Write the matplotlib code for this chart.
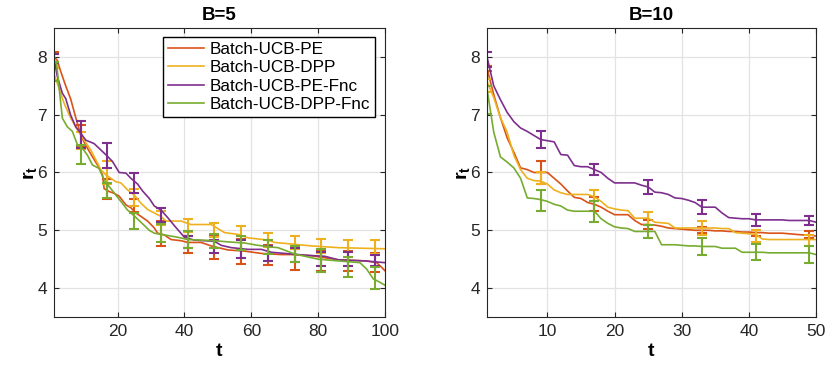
import numpy as np
import matplotlib
matplotlib.use('Agg')
import matplotlib.pyplot as plt

plt.rcParams['font.family'] = ['Liberation Sans', 'DejaVu Sans']
plt.rcParams['mathtext.fontset'] = 'custom'
plt.rcParams['mathtext.bf'] = 'Liberation Sans:bold'
plt.rcParams['mathtext.rm'] = 'Liberation Sans'

#%% datos
labels = ['Batch-UCB-PE', 'Batch-UCB-DPP', 'Batch-UCB-PE-Fnc', 'Batch-UCB-DPP-Fnc']
C = ['#D95319', '#EDB120', '#7E2F8E', '#77AC30']

# B=5 (curvas, puntos de quiebre)
red_t5 = [1, 2, 3, 4.5, 6, 7.5, 8.5, 9.2, 10.5, 12, 14, 15.5, 16, 17.5, 19, 20.5, 22.5, 24, 25.5, 27,
          29, 31, 32, 34, 36, 39, 41, 45, 48, 53, 58, 63, 69, 72, 78, 86, 94.5, 97.5, 99, 100]
red_v5 = [8.0, 7.94, 7.75, 7.5, 7.27, 6.95, 6.75, 6.62, 6.47, 6.32, 6.13, 5.96, 5.72, 5.67, 5.64, 5.59, 5.44, 5.39, 5.30, 5.24,
          5.16, 5.04, 4.95, 4.92, 4.84, 4.82, 4.79, 4.79, 4.73, 4.66, 4.64, 4.60, 4.58, 4.58, 4.56, 4.49, 4.47, 4.44, 4.36, 4.30]
yel_t5 = [1, 2, 4, 6, 8, 10, 12, 13.5, 15, 16.5, 18, 19.5, 21, 23, 25, 27, 29, 31, 33, 34.5,
          39, 42, 48, 50, 52, 56, 59, 65, 67, 78, 86, 100]
yel_v5 = [7.7, 7.54, 7.2, 6.94, 6.74, 6.56, 6.39, 6.22, 6.05, 5.96, 5.9, 5.84, 5.82, 5.70, 5.61, 5.47, 5.36, 5.30, 5.24, 5.16,
          5.16, 5.10, 5.10, 5.03, 4.96, 4.93, 4.87, 4.83, 4.79, 4.73, 4.70, 4.68]
pur_t5 = [1, 2, 3.5, 4.5, 6, 7.5, 9, 10.5, 13, 15, 17, 18.5, 20.5, 22.5, 24, 26, 27.5, 29.5, 31, 33,
          35, 37, 40, 43, 49, 51, 54, 59, 63, 66, 76, 82, 86, 94, 100]
pur_v5 = [7.97, 7.66, 7.37, 7.28, 6.99, 6.79, 6.68, 6.56, 6.50, 6.39, 6.28, 6.19, 6.0, 5.99, 5.9, 5.8, 5.68, 5.55, 5.42, 5.35,
          5.22, 5.08, 4.88, 4.83, 4.81, 4.74, 4.70, 4.67, 4.67, 4.62, 4.57, 4.55, 4.49, 4.47, 4.44]
grn_t5 = [1, 1.8, 2.5, 3.5, 5, 6.5, 8, 9.5, 11, 12.5, 14.5, 16, 18, 19.5, 21, 23, 25, 27, 29.5, 31,
          33, 35, 38, 41, 45, 49, 53, 58, 62, 66, 68, 73, 80, 92.5, 94.5, 96.5, 98.5, 100]
grn_v5 = [7.92, 7.88, 7.48, 6.94, 6.79, 6.71, 6.48, 6.42, 6.30, 6.13, 6.07, 5.87, 5.72, 5.61, 5.5, 5.35, 5.25, 5.14, 5.0, 4.95,
          4.93, 4.91, 4.88, 4.84, 4.83, 4.82, 4.80, 4.78, 4.74, 4.71, 4.7, 4.59, 4.50, 4.44, 4.33, 4.16, 4.10, 4.05]

# B=5 barras de error
eb_t5 = [1, 9, 17, 25, 33, 41, 49, 57, 65, 73, 81, 89, 97]
red_c5 = [8.0, 6.64, 5.72, 5.43, 4.94, 4.75, 4.71, 4.63, 4.57, 4.49, 4.47, 4.47, 4.44]
red_e5 = [0.08, 0.19, 0.17, 0.11, 0.22, 0.15, 0.21, 0.22, 0.17, 0.18, 0.17, 0.17, 0.17]
yel_c5 = [7.7, 6.55, 6.0, 5.57, 5.22, 5.08, 5.0, 4.95, 4.83, 4.79, 4.73, 4.73, 4.71]
yel_e5 = [0.1, 0.15, 0.2, 0.15, 0.12, 0.11, 0.12, 0.12, 0.12, 0.11, 0.12, 0.1, 0.12]
pur_c5 = [7.97, 6.66, 6.29, 5.82, 5.27, 4.8, 4.72, 4.68, 4.6, 4.57, 4.5, 4.5, 4.48]
pur_e5 = [0.08, 0.23, 0.22, 0.17, 0.12, 0.1, 0.12, 0.16, 0.13, 0.12, 0.12, 0.12, 0.1]
grn_c5 = [7.75, 6.31, 5.69, 5.16, 4.95, 4.84, 4.81, 4.78, 4.71, 4.59, 4.47, 4.36, 4.17]
grn_e5 = [0.17, 0.17, 0.13, 0.14, 0.16, 0.15, 0.12, 0.12, 0.12, 0.14, 0.2, 0.17, 0.19]

# B=10
t10 = np.arange(1, 51)
red_v10 = [7.80, 7.35, 6.95, 6.60, 6.35, 6.08, 6.05, 6.00, 6.00, 6.00,
           5.90, 5.80, 5.68, 5.57, 5.55, 5.48, 5.45, 5.40, 5.33, 5.27,
           5.27, 5.27, 5.17, 5.10, 5.10, 5.09, 5.07, 5.04, 5.03, 5.02,
           5.01, 5.00, 5.00, 5.00, 4.99, 4.99, 4.98, 4.98, 4.97, 4.97,
           4.96, 4.96, 4.95, 4.95, 4.95, 4.94, 4.93, 4.92, 4.92, 4.90]
yel_v10 = [7.57, 7.30, 6.95, 6.70, 6.30, 6.05, 5.90, 5.86, 5.85, 5.80,
           5.70, 5.65, 5.62, 5.62, 5.62, 5.62, 5.58, 5.50, 5.40, 5.37,
           5.35, 5.34, 5.21, 5.21, 5.21, 5.14, 5.13, 5.12, 5.04, 5.04,
           5.04, 5.04, 5.04, 5.04, 5.04, 5.03, 5.03, 4.96, 4.95, 4.94,
           4.93, 4.85, 4.84, 4.84, 4.84, 4.84, 4.84, 4.84, 4.84, 4.84]
pur_v10 = [8.00, 7.50, 7.26, 7.04, 6.88, 6.77, 6.71, 6.64, 6.57, 6.55,
           6.53, 6.31, 6.30, 6.12, 6.10, 6.10, 6.05, 6.00, 5.90, 5.82,
           5.82, 5.82, 5.82, 5.78, 5.75, 5.66, 5.65, 5.62, 5.56, 5.55,
           5.52, 5.48, 5.40, 5.40, 5.40, 5.30, 5.22, 5.21, 5.20, 5.20,
           5.18, 5.18, 5.18, 5.18, 5.18, 5.17, 5.17, 5.17, 5.17, 5.14]
grn_v10 = [7.45, 6.70, 6.27, 6.18, 6.08, 5.90, 5.56, 5.55, 5.53, 5.50,
           5.45, 5.42, 5.35, 5.33, 5.33, 5.33, 5.33, 5.20, 5.12, 5.06,
           5.04, 5.03, 4.98, 4.98, 4.98, 4.98, 4.75, 4.75, 4.75, 4.74,
           4.73, 4.73, 4.72, 4.72, 4.72, 4.69, 4.69, 4.69, 4.62, 4.62,
           4.62, 4.62, 4.61, 4.61, 4.61, 4.61, 4.61, 4.61, 4.61, 4.58]

eb_t10 = [1, 9, 17, 25, 33, 41, 49]
red_c10 = [7.8, 6.0, 5.45, 5.10, 5.00, 4.96, 4.92]
red_e10 = [0.05, 0.2, 0.12, 0.08, 0.05, 0.05, 0.06]
yel_c10 = [7.5, 5.9, 5.6, 5.21, 5.04, 4.9, 4.82]
yel_e10 = [0.11, 0.1, 0.1, 0.11, 0.12, 0.11, 0.1]
pur_c10 = [7.96, 6.57, 6.05, 5.75, 5.40, 5.18, 5.17]
pur_e10 = [0.13, 0.15, 0.1, 0.12, 0.12, 0.1, 0.08]
grn_c10 = [7.25, 5.52, 5.32, 4.98, 4.72, 4.62, 4.58]
grn_e10 = [0.24, 0.18, 0.18, 0.12, 0.14, 0.14, 0.15]

#%% figura
fig = plt.figure(figsize=(8.31, 3.66), dpi=100)
ax1 = fig.add_axes([54/831, 49/366, 331/831, 289/366])
ax2 = fig.add_axes([487/831, 49/366, 329/831, 289/366])

curvas5 = [(red_t5, red_v5), (yel_t5, yel_v5), (pur_t5, pur_v5), (grn_t5, grn_v5)]
barras5 = [(red_c5, red_e5), (yel_c5, yel_e5), (pur_c5, pur_e5), (grn_c5, grn_e5)]
curvas10 = [red_v10, yel_v10, pur_v10, grn_v10]
barras10 = [(red_c10, red_e10), (yel_c10, yel_e10), (pur_c10, pur_e10), (grn_c10, grn_e10)]

for i in range(4):
    x, y = curvas5[i]
    ax1.plot(x, y, c=C[i], lw=1.2, label=labels[i])
    c, e = barras5[i]
    ax1.errorbar(eb_t5, c, yerr=e, fmt='none', ecolor=C[i], elinewidth=1.5, capsize=3.3, capthick=1.5)
    ax2.plot(t10, curvas10[i], c=C[i], lw=1.2)
    c, e = barras10[i]
    ax2.errorbar(eb_t10, c, yerr=e, fmt='none', ecolor=C[i], elinewidth=1.5, capsize=3.3, capthick=1.5)

ax1.set_xlim(1, 100)
ax1.set_xticks([20, 40, 60, 80, 100])
ax2.set_xlim(1, 50)
ax2.set_xticks([10, 20, 30, 40, 50])

for a, tit in zip((ax1, ax2), ('B=5', 'B=10')):
    a.set_ylim(3.5, 8.5)
    a.set_yticks([4, 5, 6, 7, 8])
    a.grid(True, color='#e3e3e3', lw=0.9)
    a.set_axisbelow(True)
    a.tick_params(direction='in', top=True, right=True, length=3.5, width=0.8,
                  labelsize=12.5, colors='#262626', pad=5)
    for s in a.spines.values():
        s.set_color('#262626')
        s.set_linewidth(0.8)
    a.set_title(tit, fontsize=13.5, fontweight='bold', pad=6)
    a.set_xlabel('t', fontsize=14, fontweight='bold', labelpad=3)
    a.set_ylabel(r'$\mathbf{r_t}$', fontsize=14, labelpad=-1)

ax1.legend(loc='upper right', bbox_to_anchor=(0.97, 0.97), borderaxespad=0, fontsize=12.3,
           fancybox=False, edgecolor='black', framealpha=1, handlelength=2.1, handletextpad=0.3,
           labelspacing=0.2, borderpad=0.3)

fig.savefig('out.png', dpi=100)
